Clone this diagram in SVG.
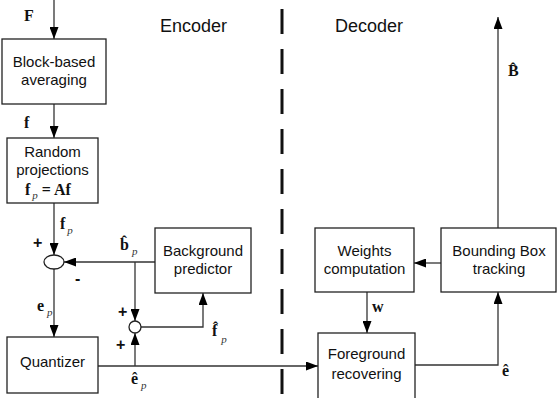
<svg xmlns="http://www.w3.org/2000/svg" width="557" height="398" viewBox="0 0 557 398">
<defs>
<marker id="ah" markerWidth="12" markerHeight="9" refX="12" refY="4.5" orient="auto" markerUnits="userSpaceOnUse">
<path d="M0,0 L12,4.5 L0,9 z" fill="#000"/>
</marker>
<style>
.box{fill:#fff;stroke:#222;stroke-width:1.3}
.t{font-family:"Liberation Sans",Arial,sans-serif;font-size:15px;fill:#111;text-anchor:middle}
.h{font-family:"Liberation Sans",Arial,sans-serif;font-size:18px;fill:#111}
.m{font-family:"Liberation Serif","Times New Roman",serif;font-size:16px;font-weight:bold;fill:#111}
.s{font-family:"Liberation Serif","Times New Roman",serif;font-size:11px;font-style:italic;font-weight:normal;fill:#333}
.pm{font-family:"Liberation Sans",Arial,sans-serif;font-size:16px;font-weight:bold;fill:#111}
.c{fill:none;stroke:#333;stroke-width:1.3}
.a{marker-end:url(#ah)}
</style>
</defs>
<rect width="557" height="398" fill="#fff"/>
<line x1="282" y1="9" x2="282" y2="398" stroke="#111" stroke-width="3" stroke-dasharray="25 15"/>
<text class="h" x="160" y="32">Encoder</text>
<text class="h" x="335" y="32">Decoder</text>

<g id="connectors">
<line class="c a" x1="54" y1="0" x2="54" y2="39"/>
<line class="c a" x1="54" y1="104" x2="54" y2="138"/>
<line class="c a" x1="54" y1="203" x2="54" y2="255"/>
<line class="c a" x1="155" y1="262" x2="64" y2="262"/>
<line class="c a" x1="54" y1="269" x2="54" y2="337"/>
<line class="c a" x1="135" y1="262" x2="135" y2="321"/>
<line class="c a" x1="98" y1="366" x2="318" y2="366"/>
<line class="c a" x1="135" y1="366" x2="135" y2="333"/>
<polyline class="c a" points="141,327 203,327 203,293"/>
<line class="c a" x1="441" y1="263" x2="414" y2="263"/>
<line class="c a" x1="498" y1="228" x2="498" y2="17"/>
<line class="c a" x1="367" y1="292" x2="367" y2="333"/>
<polyline class="c a" points="415,365 498,365 498,292"/>
</g>

<g id="labels">
<text class="m" x="24" y="21">F</text>
<text class="m" x="24" y="128">f</text>
<text class="m" x="60" y="229">f<tspan class="s" dx="2" dy="5">p</tspan></text>
<text class="pm" x="33" y="248">+</text>
<text class="pm" x="75" y="284">-</text>
<text class="m" x="120" y="250">b̂<tspan class="s" dx="3" dy="5">p</tspan></text>
<text class="m" x="37" y="311">e<tspan class="s" dx="3" dy="5">p</tspan></text>
<text class="pm" x="118" y="317">+</text>
<text class="pm" x="116" y="350">+</text>
<text class="m" x="212" y="336">f̂<tspan class="s" dx="4" dy="7">p</tspan></text>
<text class="m" x="131" y="384">ê<tspan class="s" dx="3" dy="5">p</tspan></text>
<text class="m" x="372" y="312">w</text>
<text class="m" x="502" y="376">ê</text>
<text class="m" x="508" y="76">B̂</text>
</g>

<g id="block-averaging">
<rect class="box" x="2" y="39" width="104" height="65"/>
<text class="t" x="54" y="67">Block-based</text>
<text class="t" x="54" y="85">averaging</text>
</g>
<g id="random-projections">
<rect class="box" x="7" y="138" width="91" height="65"/>
<text class="t" x="52.5" y="157">Random</text>
<text class="t" x="52.5" y="175">projections</text>
<text class="m" x="25" y="195">f<tspan class="s" dx="2" dy="4">p</tspan><tspan dx="4" dy="-4">= Af</tspan></text>
</g>
<g id="sum1">
<ellipse cx="54" cy="262" rx="10" ry="7" fill="#fff" stroke="#222" stroke-width="1.3"/>
</g>
<g id="sum2">
<circle cx="135" cy="327" r="6" fill="#fff" stroke="#222" stroke-width="1.3"/>
</g>
<g id="background-predictor">
<rect class="box" x="155" y="228" width="96" height="65"/>
<text class="t" x="203" y="256">Background</text>
<text class="t" x="203" y="274">predictor</text>
</g>
<g id="quantizer">
<rect class="box" x="7" y="337" width="91" height="56"/>
<text class="t" x="52.5" y="367">Quantizer</text>
</g>
<g id="weights-computation">
<rect class="box" x="315" y="228" width="99" height="64"/>
<text class="t" x="364.5" y="256">Weights</text>
<text class="t" x="364.5" y="274">computation</text>
</g>
<g id="bounding-box-tracking">
<rect class="box" x="441" y="228" width="115" height="64"/>
<text class="t" x="499" y="256">Bounding Box</text>
<text class="t" x="499" y="274">tracking</text>
</g>
<g id="foreground-recovering">
<rect class="box" x="318" y="333" width="97" height="70"/>
<text class="t" x="366.5" y="359">Foreground</text>
<text class="t" x="366.5" y="379">recovering</text>
</g>
</svg>
